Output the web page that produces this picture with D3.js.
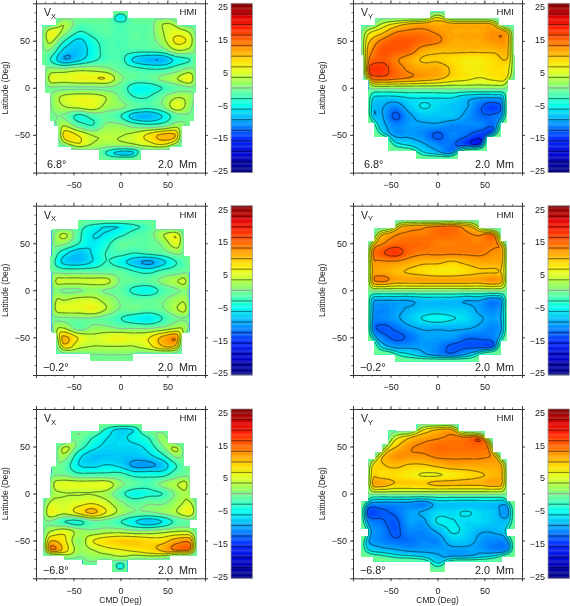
<!DOCTYPE html>
<html><head><meta charset="utf-8">
<script src="https://cdn.jsdelivr.net/npm/d3@7"></script>
<style>html,body{margin:0;padding:0;background:#fff}svg{display:block;filter:blur(0.35px)}text{font-family:"Liberation Sans",Arial,sans-serif;fill:#222}</style>
</head><body><div id="c"></div>
<script>
const lonGrid=[-75,-60,-45,-30,-15,0,15,30,45,60,75];
const latGrid=[80,70,60,50,40,30,20,10,0,-10,-20,-30,-40,-50,-60,-70,-80];
const xTicks=[-50,0,50], yTicks=[-50,0,50], barTicks=[25,15,5,-5,-15,-25];
const vxPos=[
[0,0,0,0,0,-11,0,0,0,0,0],
[0,3,-1,-1,-1,-3,-1,-1,3,3,0],
[6,2,-3,-2,-1,-2,-1,-1,3,5,3],
[4,-3,-7,-4,-2,-2,-1,-1,2,7,5],
[0,-7,-8,-5,-2,-2,-2,-2,-1,3,2],
[-3,-9,-7,-4,-2,-2,-7,-9,-9,-5,-3],
[1,1,2,2,1,-1,-2,-3,-3,-1,1],
[5,5,6,6,6,1,-1,-1,1,3,6],
[0,0,0,0,0,-1,-5,-5,-3,-1,0],
[1,4,5,5,3,0,-3,-3,0,3,2],
[1,3,4,5,2,1,-1,-2,0,5,1],
[0,0,-4,-2,-1,-3,-8,-9,-6,-1,0],
[0,3,-1,-3,1,1,-1,-2,-1,2,0],
[0,8,6,3,3,3,4,7,10,9,0],
[0,4,6,3,2,2,3,5,7,5,0],
[0,0,0,0,-4,-8,-7,0,0,0,0],
[0,0,0,0,0,0,0,0,0,0,0]];
const vyPos=[
[0,0,0,0,0,4,0,0,0,0,0],
[0,3,6,9,10,10,10,10,10,9,0],
[5,8,12,13,13,12,11,11,11,12,10],
[8,13,15,15,14,13,11,11,11,12,11],
[10,15,15,14,11,10,10,10,10,10,10],
[12,15,13,11,9,9,8,7,7,8,9],
[15,17,14,12,11,11,9,7,7,8,7],
[12,14,13,12,11,10,8,7,6,7,7],
[1,1,1,1,1,1,1,1,1,1,1],
[-6,-7,-7,-6,-6,-6,-6,-8,-9,-9,-8],
[-8,-9,-11,-8,-6,-7,-8,-9,-12,-14,-10],
[-9,-9,-13,-10,-8,-8,-8,-10,-12,-12,-9],
[-3,-8,-11,-10,-10,-10,-11,-11,-11,-12,-4],
[0,-6,-10,-10,-11,-13,-11,-12,-14,-13,0],
[0,0,-5,-7,-9,-11,-12,-14,-16,-5,0],
[0,0,0,-3,-6,-8,-11,-5,0,0,0],
[0,0,0,0,0,0,0,0,0,0,0]];
const vxMid=[
[0,0,0,0,0,0,0,0,0,0,0],
[0,0,-2,-4,-6,-6,-4,-2,0,0,0],
[0,4,-2,-6,-6,-4,-2,-1,3,6,0],
[1,1,-3,-6,-4,-1,-1,-1,1,5,1],
[0,-5,-8,-6,-3,-2,-3,-2,-1,1,0],
[-2,-7,-8,-6,-3,-5,-8,-10,-7,-3,-1],
[0,-1,-1,-1,-1,-1,-3,-4,-2,-1,0],
[4,4,4,4,4,0,-1,-1,1,3,5],
[1,0,0,1,0,-1,-4,-5,-2,0,1],
[4,3,4,4,2,0,-1,-1,0,2,3],
[4,5,5,6,3,0,0,-1,0,3,5],
[0,0,0,0,-1,-3,-5,-6,-3,0,0],
[3,3,-1,1,1,0,0,0,1,3,3],
[6,10,6,4,5,6,5,6,10,12,5],
[0,8,4,3,3,3,3,5,9,9,0],
[0,0,2,0,0,0,0,0,1,0,0],
[0,0,0,0,0,0,0,0,0,0,0]];
const vyMid=[
[0,0,0,0,0,0,0,0,0,0,0],
[0,0,8,10,11,12,13,10,6,0,0],
[4,9,12,13,13,14,14,13,12,13,3],
[9,12,14,14,14,13,13,13,13,13,10],
[12,15,17,14,13,13,13,13,13,12,11],
[11,12,12,11,10,10,9,10,11,11,10],
[10,11,10,9,8,7,7,8,9,9,9],
[10,13,11,11,11,11,11,11,11,12,9],
[1,1,1,1,1,1,1,1,1,1,1],
[-8,-9,-9,-9,-8,-8,-8,-9,-9,-11,-8],
[-9,-11,-10,-9,-8,-8,-8,-8,-10,-11,-8],
[-10,-11,-10,-8,-6,-5,-6,-7,-9,-10,-8],
[-10,-13,-12,-10,-9,-9,-9,-9,-10,-11,-8],
[-7,-11,-13,-12,-10,-10,-10,-12,-12,-11,-6],
[0,-7,-10,-10,-10,-11,-13,-13,-13,-12,0],
[0,0,-3,-5,-8,-10,-11,-8,-4,0,0],
[0,0,0,0,0,0,0,0,0,0,0]];
const vxNeg=[
[0,0,0,0,0,0,0,0,0,0,0],
[0,0,2,-1,-4,-7,-6,-1,2,0,0],
[0,0,0,-3,-6,-7,-5,-3,2,0,0],
[0,5,-1,-5,-7,-7,-7,-5,0,5,0],
[0,2,-5,-8,-8,-8,-8,-7,-4,1,0],
[1,-1,-6,-7,-6,-7,-10,-10,-8,-3,0],
[0,0,-2,-2,-2,-2,-4,-4,-4,-1,0],
[4,5,5,5,5,1,-1,-2,1,3,5],
[2,3,3,3,2,-2,-5,-4,-3,1,3],
[4,4,5,6,4,1,-1,0,0,2,4],
[6,4,7,10,6,2,0,0,1,3,6],
[0,-3,-4,-1,-1,-3,-6,-8,-6,-2,-1],
[3,5,2,1,2,2,1,1,2,3,3],
[9,7,1,6,8,9,9,8,8,11,11],
[13,8,2,3,5,6,7,8,10,13,13],
[2,2,0,1,1,1,1,2,1,1,2],
[0,0,0,0,0,-9,0,0,0,0,0]];
const vyNeg=[
[0,0,0,0,0,0,0,0,0,0,0],
[0,0,0,3,6,9,10,5,1,0,0],
[0,0,5,9,11,12,13,13,15,10,0],
[0,5,9,12,13,14,14,14,14,12,2],
[4,9,12,12,12,13,13,13,13,12,8],
[8,9,10,9,9,10,11,11,11,11,10],
[9,8,8,7,6,6,7,8,9,10,10],
[10,11,9,9,9,10,10,10,10,11,9],
[1,1,1,1,1,1,1,1,1,1,1],
[-9,-10,-10,-10,-11,-8,-8,-8,-8,-8,-8],
[-13,-13,-12,-10,-9,-7,-7,-6,-7,-8,-10],
[-10,-12,-13,-10,-10,-6,-6,-7,-7,-8,-8],
[-9,-11,-13,-11,-11,-9,-6,-7,-9,-9,-7],
[-9,-11,-12,-12,-11,-11,-8,-8,-10,-11,-10],
[-6,-8,-9,-10,-10,-10,-10,-10,-10,-11,-10],
[0,0,-3,-4,-6,-8,-9,-9,-7,-4,0],
[0,0,0,0,0,-3,0,0,0,0,0]];
// footprints: [lat top, lat bottom, lon left, lon right]
const maskVxPos=[[81.5,74,-7.5,7.5],[74,66,-68,60],[66,25,-83,80],[25,-5,-80,80],[-5,-35,-75,78],[-35,-40,-70,74],[-40,-62,-66,65],[-62,-66,-52,52],[-66,-76,-22.5,21.5]];
const maskVyPos=[[81,74,-8,8],[74,66,-66,65],[66,35,-81,81],[35,9,-79,82],[9,-2.5,-73,75],[-2.5,-37,-74,74],[-37,-52,-67,67],[-52,-67,-52,52],[-67,-75,-22.5,21.5]];
const maskVxMid=[[74,65,-45,37],[65,36,-73,67],[36,21,-75,74],[21,-45,-73,73],[-45,-67,-68,65],[-67,-75,-32.5,13]];
const maskVyMid=[[74.5,66,-45,44],[66,52,-67,67],[52,-53,-74,74],[-53,-68,-67,67],[-68,-75.5,-45,44]];
const maskVxNeg=[[74,66,-22.5,22.5],[66,53.5,-52,50],[53.5,29,-68,67],[29,20,-73,74],[20,-5,-75,74],[-5,-28,-82,81],[-28,-37,-82,74],[-37,-66,-82,81],[-66,-70,-60,52],[-70,-75,-40,-25],[-70.5,-83,-8.5,7]];
const maskVyNeg=[[74,66,-22,22],[67,60,-52,-45],[66,59,-44,50],[59,52,-52,59],[52,44,-59,59],[44,36,-66,67],[36,-8,-74,74],[-8,-37,-81,82],[-37,-45,-74,74],[-45,-67,-81,82],[-67,-72,-68,68],[-72,-83,-8,8]];

const panels=[
{d:vxPos,m:maskVxPos,sub:"X",ang:"6.8°",col:0,row:0},
{d:vyPos,m:maskVyPos,sub:"Y",ang:"6.8°",col:1,row:0},
{d:vxMid,m:maskVxMid,sub:"X",ang:"−0.2°",col:0,row:1},
{d:vyMid,m:maskVyMid,sub:"Y",ang:"−0.2°",col:1,row:1},
{d:vxNeg,m:maskVxNeg,sub:"X",ang:"−6.8°",col:0,row:2},
{d:vyNeg,m:maskVyNeg,sub:"Y",ang:"−6.8°",col:1,row:2}];
const colX=[36,353], rowY=[3.3,205.7,409], W=169, H=169.3, barGap=195, barW=21.5;
const background=-0.4;
const color=d3.scaleLinear()
 .domain([-25,-20,-15,-10,-5,-1,2,5,8,11,14,18,21,25])
 .range(["#00007c","#0000c8","#0028ff","#00a0ff","#00ffee","#60ffa0","#a0ff50","#e4ff20","#ffe000","#ffa800","#ff6a00","#ff2000","#e00000","#780000"])
 .clamp(true);
const lineLevels=d3.range(-8,9).map(k=>k*3.125);
const lineColor=t=>t===0?"#9aa89c":d3.rgb(color(t)).darker(1.6).formatHex();
const svg=d3.select("#c").append("svg").attr("width",570).attr("height",606);

function cr(p0,p1,p2,p3,t){return .5*(2*p1+(p2-p0)*t+(2*p0-5*p1+4*p2-p3)*t*t+(3*p1-p0-3*p2+p3)*t*t*t);}
function upsample(d,mask){
 const lons=[-105,-90,...lonGrid,90,105], lats=[100,90,...latGrid,-90,-100];
 const pad=new Array(lons.length).fill(0);
 const g=[pad,pad,...d.map(r=>[0,0,...r,0,0]),pad,pad];
 const nx=181,ny=181,out=new Float64Array(nx*ny),mk=new Float64Array(nx*ny);
 for(let j=0;j<ny;j++)for(let i=0;i<nx;i++){const lo=-90+i,la=90-j;
  mk[j*nx+i]=mask.some(m=>la<=m[0]&&la>=m[1]&&lo>=m[2]&&lo<=m[3])?1:0;}
 d3.blur2({data:mk,width:nx,height:ny},4.5);
 const sx=d3.scaleLinear().domain(lons).range(d3.range(lons.length));
 const sy=d3.scaleLinear().domain(lats).range(d3.range(lats.length));
 for(let j=0;j<ny;j++){const fy=sy(90-j),iy=Math.min(Math.floor(fy),lats.length-3),ty=fy-iy;
  for(let i=0;i<nx;i++){const fx=sx(-90+i),ix=Math.min(Math.floor(fx),lons.length-3),tx=fx-ix;
   const col=[];
   for(let b=-1;b<=2;b++){const r=g[Math.max(0,Math.min(lats.length-1,iy+b))];
    col.push(cr(r[Math.max(0,ix-1)],r[ix],r[ix+1],r[ix+2],tx));}
   const taper=Math.max(0,Math.min(1,(mk[j*nx+i]-.5)/.42));
   const v=cr(col[0],col[1],col[2],col[3],ty)*taper;
   out[j*nx+i]=v+background*(1-Math.min(1,Math.abs(v)));
  }}
 return {out,nx,ny};
}
panels.forEach((p,idx)=>{
 const x0=colX[p.col],y0=rowY[p.row];
 const x=d3.scaleLinear().domain([-90,90]).range([x0,x0+W]);
 const y=d3.scaleLinear().domain([90,-90]).range([y0,y0+H]);
 const clipId="clip"+idx;
 svg.append("clipPath").attr("id",clipId).selectAll("rect").data(p.m).join("rect")
  .attr("x",d=>x(d[2])).attr("y",d=>y(d[0])).attr("width",d=>x(d[3])-x(d[2])).attr("height",d=>y(d[1])-y(d[0]));
 const f=upsample(p.d,p.m);
 const path=d3.geoPath(d3.geoTransform({point(a,b){this.stream.point(x(-90+a-.5),y(90-(b-.5)));}}));
 const gf=svg.append("g").attr("clip-path",`url(#${clipId})`);
 gf.selectAll("rect").data(p.m).join("rect").attr("fill",color(background))
  .attr("x",d=>x(d[2])).attr("y",d=>y(d[0])).attr("width",d=>x(d[3])-x(d[2])).attr("height",d=>y(d[1])-y(d[0]));
 const fillLevels=d3.range(-25,25.01,0.5);
 const cf=d3.contours().size([f.nx,f.ny]).smooth(true).thresholds(fillLevels)(f.out);
 gf.selectAll("path.f").data(cf.filter(c=>c.coordinates.length)).join("path").attr("class","f")
  .attr("d",path).attr("fill",d=>color(d.value+.25));
 const cl=d3.contours().size([f.nx,f.ny]).smooth(true).thresholds(lineLevels)(f.out);
 gf.selectAll("path.l").data(cl.filter(c=>c.coordinates.length)).join("path").attr("class","l")
  .attr("d",path).attr("fill","none").attr("stroke",d=>lineColor(d.value))
  .attr("stroke-width",d=>d.value===0?0.9:1.2);
 // axes
 const axisStyle=g=>{g.selectAll("path").attr("stroke","#333").attr("stroke-width",1);g.selectAll("line").attr("stroke","#333").attr("stroke-width",.8);g.selectAll("text").attr("font-size",9).attr("fill","#222");};
 const minor=d3.range(-80,81,10);
 const gb=svg.append("g").attr("transform",`translate(0,${y0+H})`).call(d3.axisBottom(x).tickValues(xTicks).tickSize(3).tickPadding(6).tickFormat(d=>d3.format("")(d).replace("-","−"))).call(axisStyle);
 gb.selectAll("line.minor").data(minor).join("line").attr("class","minor").attr("stroke","#333").attr("stroke-width",.7).attr("x1",x).attr("x2",x).attr("y1",0).attr("y2",1.6);
 const gt=svg.append("g").attr("transform",`translate(0,${y0})`).call(d3.axisTop(x).tickValues(xTicks).tickSize(3).tickFormat("")).call(axisStyle);
 gt.selectAll("line.minor").data(minor).join("line").attr("class","minor").attr("stroke","#333").attr("stroke-width",.7).attr("x1",x).attr("x2",x).attr("y1",0).attr("y2",-1.6);
 const gl=svg.append("g").attr("transform",`translate(${x0},0)`).call(d3.axisLeft(y).tickValues(yTicks).tickSize(3).tickPadding(3).tickFormat(d=>d3.format("")(d).replace("-","−"))).call(axisStyle);
 gl.selectAll("line.minor").data(minor).join("line").attr("class","minor").attr("stroke","#333").attr("stroke-width",.7).attr("y1",y).attr("y2",y).attr("x1",0).attr("x2",-1.6);
 const gr=svg.append("g").attr("transform",`translate(${x0+W},0)`).call(d3.axisRight(y).tickValues(yTicks).tickSize(3).tickFormat("")).call(axisStyle);
 gr.selectAll("line.minor").data(minor).join("line").attr("class","minor").attr("stroke","#333").attr("stroke-width",.7).attr("y1",y).attr("y2",y).attr("x1",0).attr("x2",1.6);
 // labels
 const v=svg.append("text").attr("x",x0+8).attr("y",y0+13).attr("font-size",10.5);
 v.append("tspan").text("V");
 v.append("tspan").attr("font-size",7.5).attr("dy",2.5).text(p.sub);
 svg.append("text").attr("x",x0+W-8).attr("y",y0+12).attr("text-anchor","end").attr("font-size",9.6).text("HMI");
 svg.append("text").attr("x",x0+(p.ang.length>4?7:11)).attr("y",y0+H-4.5).attr("font-size",10.8).text(p.ang);
 svg.append("text").attr("x",x0+W-8).attr("y",y0+H-4.5).attr("text-anchor","end").attr("font-size",10.8).attr("xml:space","preserve").text("2.0  Mm");
 svg.append("text").attr("transform",`translate(${x0-28},${y0+H/2}) rotate(-90)`).attr("text-anchor","middle").attr("font-size",8.4).text("Latitude (Deg)");
 if(p.row===2) svg.append("text").attr("x",x0+W/2).attr("y",y0+H+25).attr("text-anchor","middle").attr("font-size",8.4).text("CMD (Deg)");
 // colour bar
 const bx=x0+barGap,bar=d3.scaleLinear().domain([-25,25]).range([y0+H,y0]);
 const gc=svg.append("g");
 gc.selectAll("rect").data(d3.range(-25,25,0.25)).join("rect").attr("x",bx).attr("width",barW)
  .attr("y",d=>bar(d+.25)).attr("height",bar(0)-bar(.25)+.3).attr("fill",d=>color(d+.125));
 gc.selectAll("line").data(lineLevels.filter(t=>Math.abs(t)<25)).join("line").attr("x1",bx).attr("x2",bx+barW)
  .attr("y1",bar).attr("y2",bar).attr("stroke",lineColor).attr("stroke-width",1.2);
 gc.append("rect").attr("x",bx).attr("y",y0).attr("width",barW).attr("height",H).attr("fill","none").attr("stroke","#999").attr("stroke-width",.8);
 const lab=d3.scaleLinear().domain([-25,25]).range([y0+H-1.6,y0+4]);
 svg.append("g").selectAll("text").data(barTicks).join("text").attr("x",bx-3).attr("y",d=>lab(d)+3).attr("text-anchor","end").attr("font-size",9)
  .text(d=>String(d).replace("-","−"));
});
</script></body></html>
